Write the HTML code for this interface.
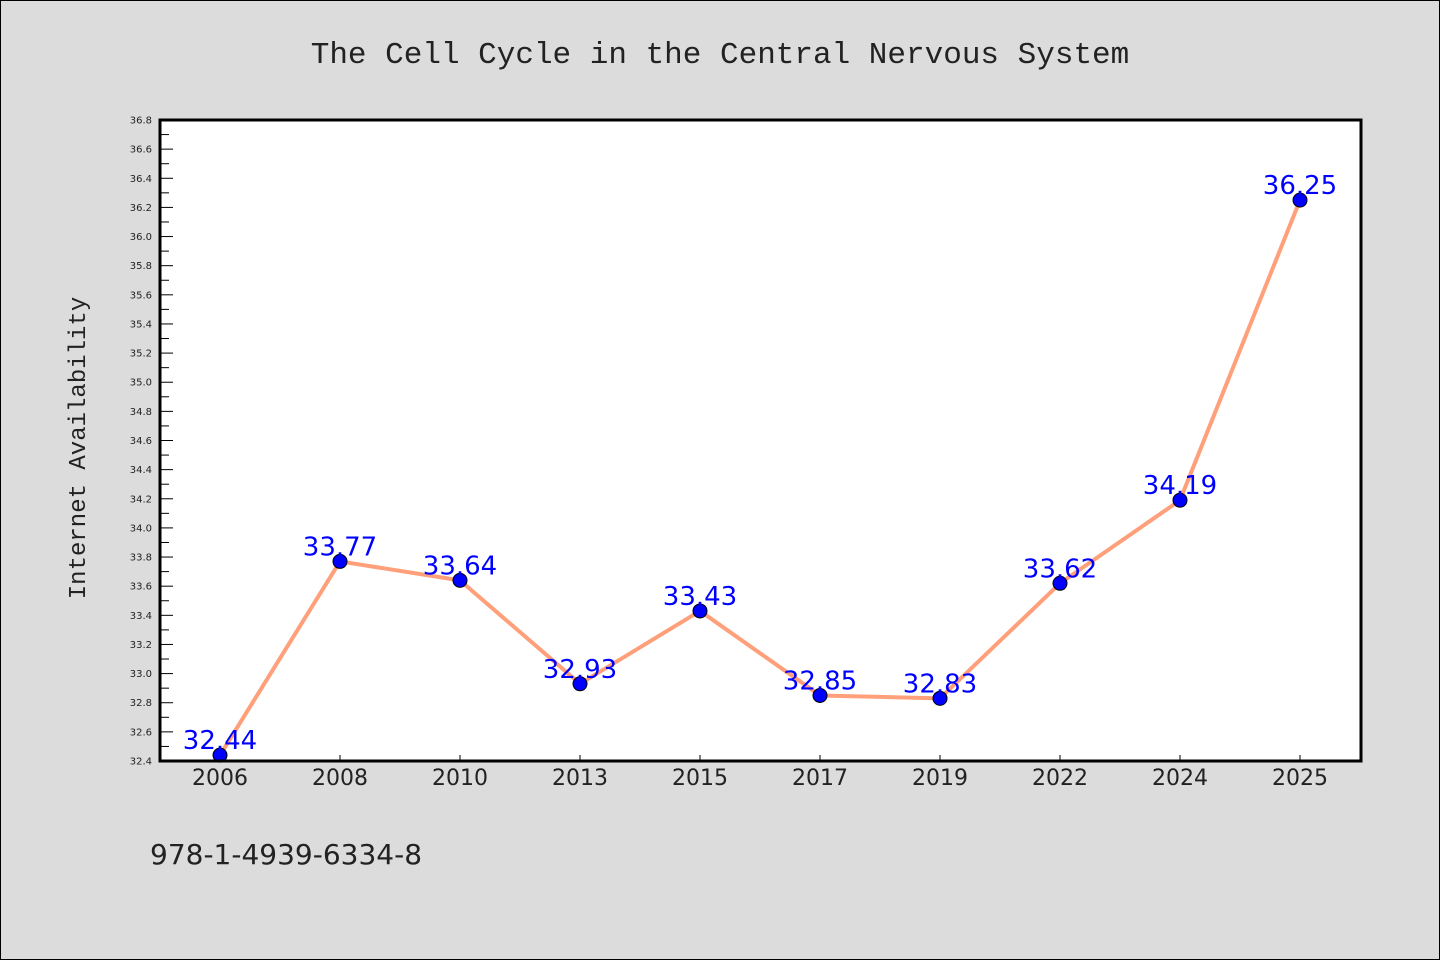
<!DOCTYPE html>
<html><head><meta charset="utf-8"><style>
body{margin:0;background:#dcdcdc;}
svg{display:block}
</style></head><body>
<svg width="1440" height="960" xmlns="http://www.w3.org/2000/svg">
<rect x="0.5" y="0.5" width="1439" height="959" fill="#dcdcdc" stroke="#000"/>
<text x="720" y="63" text-anchor="middle" font-family="Liberation Mono, DejaVu Sans Mono, monospace" font-size="31" fill="#222">The Cell Cycle in the Central Nervous System</text>
<rect x="160" y="120" width="1201" height="641" fill="#fff"/>
<g id="axes"></g>
<g id="series"></g>
<rect x="160" y="120" width="1201" height="641" fill="none" stroke="#000" stroke-width="3"/>
<text transform="translate(85,448) rotate(-90)" text-anchor="middle" font-family="Liberation Mono, DejaVu Sans Mono, monospace" font-size="24" fill="#222">Internet Availability</text>
<text x="150" y="864" font-family="DejaVu Sans, Liberation Sans, sans-serif" font-size="28" fill="#222">978-1-4939-6334-8</text>
</svg>
<script>
const categories=["2006","2008","2010","2013","2015","2017","2019","2022","2024","2025"];
const values=[32.44,33.77,33.64,32.93,33.43,32.85,32.83,33.62,34.19,36.25];
const valueLabels=["32.44","33.77","33.64","32.93","33.43","32.85","32.83","33.62","34.19","36.25"];
const yMin=32.4, yMax=36.8, yStep=0.2;
const NS="http://www.w3.org/2000/svg";
const X0=160,X1=1361,Y0=761,Y1=120;
function xs(i){return 220+i*(1300-220)/(categories.length-1);}
function ys(v){return Y0-(v-yMin)/(yMax-yMin)*(Y0-Y1);}
function mk(tag,attrs,parent){const e=document.createElementNS(NS,tag);for(const k in attrs)e.setAttribute(k,attrs[k]);parent.appendChild(e);return e;}
const axes=document.getElementById('axes'),ser=document.getElementById('series');
const n=Math.round((yMax-yMin)/yStep);
for(let k=0;k<=n;k++){
 const v=yMin+k*yStep,y=ys(v);
 const t=mk('line',{x1:X0,x2:X0+13,y1:y,y2:y,stroke:'#000','stroke-width':1},axes);
 
 
 if(k<n){const ym=ys(v+yStep/2);const m=mk('line',{x1:X0,x2:X0+9,y1:ym,y2:ym,stroke:'#000','stroke-width':1},axes);
 
 }
 const l=mk('text',{x:152,y:y+3.5,'text-anchor':'end','font-family':'DejaVu Sans, Liberation Sans, sans-serif','font-size':10,fill:'#222'},axes);
 l.textContent=v.toFixed(1);
 
 
}
categories.forEach((c,i)=>{
 const x=xs(i);
 const t=mk('line',{x1:x,x2:x,y1:Y0,y2:Y0-6,stroke:'#000','stroke-width':1},axes);
 
 
 const l=mk('text',{x:x,y:785,'text-anchor':'middle','font-family':'DejaVu Sans, Liberation Sans, sans-serif','font-size':22,fill:'#222'},axes);
 l.textContent=c;
 
 
});
const pts=values.map((v,i)=>xs(i)+','+ys(v)).join(' ');
const pl=mk('polyline',{points:pts,fill:'none',stroke:'#ffa07a','stroke-width':4,'stroke-linejoin':'round'},ser);


values.forEach((v,i)=>{
 const c=mk('circle',{cx:xs(i),cy:ys(v),r:7,fill:'#0000ff',stroke:'#000','stroke-width':1},ser);
 
 
});
values.forEach((v,i)=>{
 const t=mk('text',{x:xs(i),y:ys(v)-6,'text-anchor':'middle','font-family':'DejaVu Sans, Liberation Sans, sans-serif','font-size':26,fill:'#0000ff'},ser);
 t.textContent=valueLabels[i];
 
 
});
</script>
</body></html>
